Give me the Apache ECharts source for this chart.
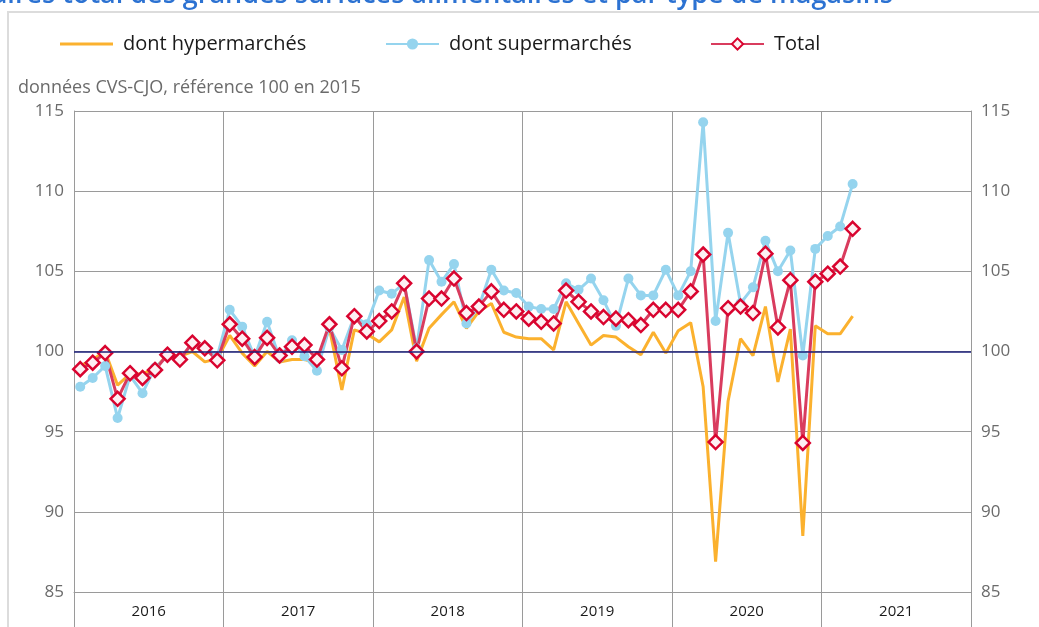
<!DOCTYPE html>
<html>
<head>
<meta charset="utf-8">
<script src="https://cdn.jsdelivr.net/npm/echarts@6/dist/echarts.min.js"></script>
<style>
  html, body { margin: 0; padding: 0; background: #fff; }
  #chart { width: 1039px; height: 627px; }
</style>
</head>
<body>
<div id="chart"></div>
<script>
// années affichées sous l'axe
const years = ["2016", "2017", "2018", "2019", "2020", "2021"];

// indices CVS-CJO, janvier 2016 -> mars 2021
const hyper = [
  99.1, 99.5, 100.0, 97.9, 98.6, 98.6, 98.95, 99.8, 99.7, 100.0, 99.35, 99.55,
  101.0, 99.9, 99.1, 100.0, 99.35, 99.5, 99.5, 99.3, 101.45, 97.6, 101.35, 101.1,
  100.6, 101.35, 103.4, 99.4, 101.45, 102.3, 103.1, 101.45, 102.5, 103.0, 101.2, 100.9,
  100.8, 100.8, 100.1, 103.1, 101.75, 100.4, 101.0, 100.9, 100.3, 99.8, 101.2, 99.9,
  101.3, 101.8, 97.8, 86.9, 96.9, 100.8, 99.75, 102.8, 98.1, 101.4, 88.5, 101.6,
  101.1, 101.1, 102.2
];
const super_ = [
  97.8, 98.35, 99.1, 95.85, 98.5, 97.4, 99.0, 99.7, 99.6, 100.45, 100.3, 99.7,
  102.6, 101.55, 99.65, 101.85, 99.6, 100.7, 99.7, 98.8, 101.5, 100.1, 102.2, 101.7,
  103.8, 103.6, 104.25, 100.2, 105.7, 104.35, 105.45, 101.75, 102.8, 105.1, 103.8, 103.65,
  102.8, 102.65, 102.65, 104.25, 103.85, 104.55, 103.2, 101.6, 104.55, 103.5, 103.5, 105.1,
  103.5, 105.0, 114.3, 101.9, 107.4, 103.0, 104.0, 106.9, 105.0, 106.3, 99.75, 106.4,
  107.2, 107.8, 110.45
];
const total = [
  98.9, 99.3, 99.9, 97.05, 98.65, 98.35, 98.85, 99.8, 99.5, 100.55, 100.2, 99.45,
  101.7, 100.8, 99.65, 100.85, 99.75, 100.3, 100.4, 99.5, 101.7, 98.95, 102.2, 101.25,
  101.9, 102.5, 104.25, 100.0, 103.3, 103.3, 104.55, 102.4, 102.8, 103.75, 102.6, 102.5,
  102.05, 101.85, 101.75, 103.8, 103.1, 102.5, 102.15, 102.05, 101.95, 101.65, 102.6, 102.6,
  102.6, 103.75, 106.05, 94.35, 102.7, 102.8, 102.4, 106.1, 101.5, 104.45, 94.3, 104.35,
  104.85, 105.3, 107.65
];

// axe des mois (caché), 2016-2021
const months = [];
years.forEach(y => {
  for (let m = 1; m <= 12; m++) months.push(y + "-" + (m < 10 ? "0" + m : m));
});

const chart = echarts.init(document.getElementById("chart"));
const font = "'Open Sans', sans-serif";

const legendBase = {
  itemWidth: 53, itemHeight: 14, top: 29,
  textStyle: { fontSize: 20, color: "#1a1a1a", fontFamily: font, padding: [0, 0, 0, 5] }
};

const option = {
  animation: false,
  textStyle: { fontFamily: font },
  graphic: [
    {
      type: "rect",
      shape: { x: 8, y: 12, width: 1100, height: 700 },
      style: { fill: "none", stroke: "#dcdcdc", lineWidth: 2 },
      silent: true
    },
    {
      type: "text",
      style: {
        x: 893, y: -18,
        text: "Chiffre d'affaires total des grandes surfaces alimentaires et par type de magasins",
        textAlign: "right",
        textVerticalAlign: "top",
        font: "600 27px 'Open Sans', sans-serif",
        fill: "#2c72d2"
      }
    },
    {
      type: "text",
      style: {
        x: 18, y: 88,
        text: "données CVS-CJO, référence 100 en 2015",
        textVerticalAlign: "middle",
        font: "18px 'Open Sans', sans-serif",
        fill: "#6b6b6b"
      }
    }
  ],
  legend: [
    Object.assign({}, legendBase, { data: [{ name: "dont hypermarchés", icon: "rect", itemStyle: { color: "#fbb12e" } }], left: 55, itemHeight: 3 }),
    Object.assign({}, legendBase, { data: ["dont supermarchés"], left: 380 }),
    Object.assign({}, legendBase, { data: ["Total"], left: 705 })
  ],
  grid: { left: 74, right: 68, top: 111, bottom: 35, containLabel: false },
  xAxis: [
    {
      type: "category", data: months, boundaryGap: true, show: false
    },
    {
      type: "category", data: years, boundaryGap: true, position: "bottom",
      axisLine: { show: true, lineStyle: { color: "#9a9a9a", width: 1 } },
      axisTick: { show: true, length: 36, lineStyle: { color: "#9a9a9a" } },
      axisLabel: { color: "#1a1a1a", fontSize: 15, margin: 12, fontFamily: font },
      splitLine: { show: true, lineStyle: { color: "#9a9a9a", width: 1 } }
    }
  ],
  yAxis: [
    {
      type: "value", min: 85, max: 115, interval: 5, position: "left",
      axisLine: { show: true, lineStyle: { color: "#9a9a9a" } },
      axisTick: { show: false },
      axisLabel: { color: "#6b6b6b", fontSize: 17, margin: 10, fontFamily: font },
      splitLine: { show: true, lineStyle: { color: "#9a9a9a", width: 1 } }
    },
    {
      type: "value", min: 85, max: 115, interval: 5, position: "right",
      axisLine: { show: true, lineStyle: { color: "#9a9a9a" } },
      axisTick: { show: false },
      axisLabel: { color: "#6b6b6b", fontSize: 17, margin: 10, fontFamily: font },
      splitLine: { show: false }
    }
  ],
  series: [
    {
      name: "dont hypermarchés", type: "line", data: hyper,
      xAxisIndex: 0, yAxisIndex: 0,
      symbol: "none",
      lineStyle: { color: "#fbb12e", width: 3 },
      itemStyle: { color: "#fbb12e" },
      markLine: {
        silent: true, symbol: "none", label: { show: false },
        lineStyle: { color: "#1b1f7a", width: 1.5, type: "solid" },
        data: [{ yAxis: 100 }]
      }
    },
    {
      name: "dont supermarchés", type: "line", data: super_,
      xAxisIndex: 0, yAxisIndex: 0,
      symbol: "circle", symbolSize: 10, showAllSymbol: true,
      lineStyle: { color: "#95d4ee", width: 3 },
      itemStyle: { color: "#95d4ee" }
    },
    {
      name: "Total", type: "line", data: total,
      xAxisIndex: 0, yAxisIndex: 0,
      symbol: "diamond", symbolSize: 14, showAllSymbol: true,
      lineStyle: { color: "#d93c5e", width: 3 },
      itemStyle: { color: "#fdf0f3", borderColor: "#d9042f", borderWidth: 2.5 }
    }
  ]
};

chart.setOption(option);
</script>
</body>
</html>
